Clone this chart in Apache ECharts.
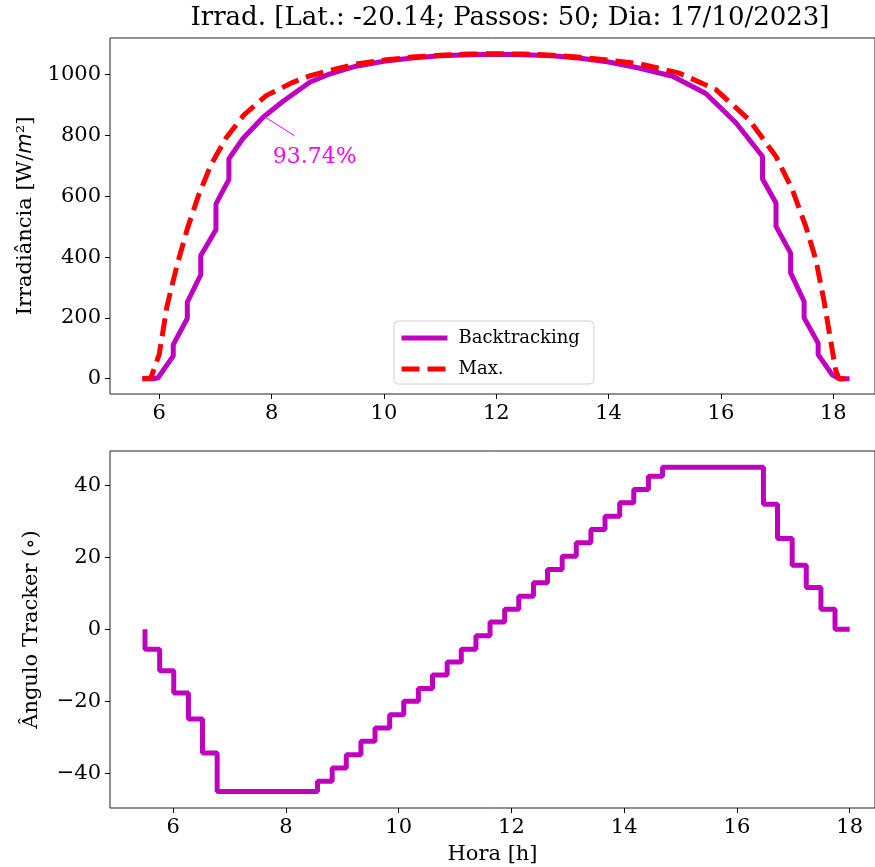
<!DOCTYPE html>
<html>
<head>
<meta charset="utf-8">
<script src="https://cdn.jsdelivr.net/npm/echarts@6/dist/echarts.min.js"></script>
<style>
  html, body { margin: 0; padding: 0; background: #fff; }
  #chart { width: 875px; height: 867px; }
</style>
</head>
<body>
<div id="chart"></div>
<script>
// top panel: irradiance (hours)
const hoursBack = [5.70, 5.90, 5.98, 6.25, 6.25, 6.50, 6.50, 6.74, 6.74, 7.01, 7.01, 7.24, 7.24, 7.49, 7.85, 8.20, 8.68,
  9.0, 9.5, 10.0, 10.5, 11.0, 11.5, 12.0, 12.5, 13.0, 13.5, 14.0, 14.54, 15.14, 15.73, 16.27,
  16.74, 16.74, 16.98, 16.98, 17.24, 17.24, 17.48, 17.48, 17.73, 17.73, 17.98, 18.10, 18.29];
const irrBacktracking = [0, 0, 3, 75, 112, 198, 252, 342, 405, 490, 575, 655, 723, 790, 860, 912, 975,
  1000, 1028, 1044, 1055, 1062, 1066, 1067, 1066, 1062, 1054, 1042, 1022, 995, 938, 841,
  731, 657, 578, 501, 413, 348, 254, 200, 117, 79, 13, 0, 0];

const hoursMax = [5.70, 5.85, 6.00, 6.14, 6.32, 6.50, 6.70, 6.92, 7.19, 7.51, 7.91, 8.38, 8.68,
  9.0, 9.5, 10.0, 10.5, 11.0, 11.5, 12.0, 12.5, 13.0, 13.5, 14.0, 14.55, 15.26, 15.91, 16.50,
  16.98, 17.27, 17.51, 17.69, 17.83, 17.95, 18.04, 18.10, 18.29];
const irrMax = [0, 2, 80, 240, 375, 493, 603, 703, 792, 868, 932, 975, 996,
  1012, 1035, 1048, 1058, 1064, 1068, 1069, 1068, 1064, 1057, 1048, 1036, 1005, 951, 852,
  731, 622, 501, 391, 260, 128, 30, 0, 0];

// bottom panel: tracker angle, 50 steps
const hoursStep = [5.50, 5.76, 6.01, 6.27, 6.52, 6.78, 7.03, 7.29, 7.54, 7.80, 8.05, 8.31, 8.56, 8.82,
  9.07, 9.33, 9.58, 9.84, 10.09, 10.35, 10.60, 10.86, 11.11, 11.37, 11.62, 11.88, 12.13, 12.39,
  12.64, 12.90, 13.15, 13.41, 13.66, 13.92, 14.17, 14.43, 14.68, 14.94, 15.19, 15.45, 15.70,
  15.96, 16.21, 16.47, 16.72, 16.98, 17.23, 17.49, 17.74, 18.00];
const trackerAngle = [0, -5.5, -11.5, -17.7, -24.9, -34.3, -45, -45, -45, -45, -45, -45, -45, -42.2,
  -38.5, -34.8, -31.1, -27.4, -23.7, -20.0, -16.4, -12.7, -9.1, -5.5, -1.8, 2.0, 5.6, 9.2,
  12.9, 16.6, 20.3, 24.0, 27.7, 31.4, 35.1, 38.8, 42.5, 45, 45, 45, 45,
  45, 45, 45, 34.7, 25.2, 17.8, 11.6, 5.6, 0];

const xTicks = [6, 8, 10, 12, 14, 16, 18];
const irrTicks = [0, 200, 400, 600, 800, 1000];
const angleTicks = [-40, -20, 0, 20, 40];

const titleText = 'Irrad. [Lat.: -20.14; Passos: 50; Dia: 17/10/2023]';
const annotText = '93.74%';

const FONT = 'DejaVu Serif';
const PURPLE = '#bf00bf';
const RED = '#ff0000';

const zip = (xs, ys) => xs.map((x, i) => [x, ys[i]]);
const fmt = (v) => String(v).replace('-', '\u2212');

const chart = echarts.init(document.getElementById('chart'), null, { renderer: 'canvas' });

const axisLabel = (vals) => ({
  customValues: vals, formatter: fmt, color: '#000', fontFamily: FONT, fontSize: 21, margin: 9
});
const axisTick = (vals) => ({
  customValues: vals, length: 5, lineStyle: { color: '#000', width: 1 }
});
const noLine = { show: false, onZero: false };

const option = {
  animation: false,
  backgroundColor: '#fff',
  graphic: [{
    type: 'text', x: 510, y: 18,
    style: { text: titleText, fill: '#000', font: '26px "DejaVu Serif"', textAlign: 'center', textVerticalAlign: 'middle' }
  }],
  legend: {
    data: ['Backtracking', 'Max.'],
    orient: 'vertical',
    left: 394, top: 321,
    padding: [8, 14, 6, 5],
    itemWidth: 46, itemHeight: 12, itemGap: 13,
    lineStyle: { width: 5 },
    itemStyle: { opacity: 0, color: 'rgba(0,0,0,0)', borderWidth: 0 },
    textStyle: { fontFamily: FONT, fontSize: 18, color: '#000', padding: [0, 0, 0, 6] },
    borderColor: '#d0d0d0', borderWidth: 1, borderRadius: 4,
    backgroundColor: 'rgba(255,255,255,0.8)'
  },
  grid: [
    { left: 110, top: 38, width: 766, height: 356, show: true, borderColor: '#222', borderWidth: 1 },
    { left: 110, top: 451, width: 766, height: 357, show: true, borderColor: '#222', borderWidth: 1 }
  ],
  xAxis: [
    { type: 'value', gridIndex: 0, min: 5.124, max: 18.742, axisLine: noLine,
      axisLabel: axisLabel(xTicks), axisTick: axisTick(xTicks), splitLine: { show: false } },
    { type: 'value', gridIndex: 1, min: 4.879, max: 18.449, axisLine: noLine,
      axisLabel: axisLabel(xTicks), axisTick: axisTick(xTicks), splitLine: { show: false },
      name: 'Hora [h]', nameLocation: 'middle', nameGap: 36,
      nameTextStyle: { fontFamily: FONT, fontSize: 21, color: '#000' } }
  ],
  yAxis: [
    { type: 'value', gridIndex: 0, min: -50.3, max: 1120.7, axisLine: noLine,
      axisLabel: axisLabel(irrTicks), axisTick: axisTick(irrTicks), splitLine: { show: false },
      name: 'Irradiância [W/{i|m}²]', nameLocation: 'middle', nameGap: 74,
      nameTextStyle: { fontFamily: FONT, fontSize: 21, color: '#000',
        rich: { i: { fontFamily: 'DejaVu Sans', fontStyle: 'italic', fontSize: 21, color: '#000' } } } },
    { type: 'value', gridIndex: 1, min: -49.6, max: 49.5, axisLine: noLine,
      axisLabel: axisLabel(angleTicks), axisTick: axisTick(angleTicks), splitLine: { show: false },
      name: 'Ângulo Tracker (∘)', nameLocation: 'middle', nameGap: 68,
      nameTextStyle: { fontFamily: FONT, fontSize: 21, color: '#000' } }
  ],
  series: [
    {
      name: 'Backtracking', type: 'line', xAxisIndex: 0, yAxisIndex: 0,
      data: zip(hoursBack, irrBacktracking), showSymbol: false, symbol: 'none',
      color: PURPLE, lineStyle: { color: PURPLE, width: 5 },
      markLine: {
        silent: true, symbol: ['none', 'none'], animation: false,
        lineStyle: { color: '#ff00ff', width: 1, type: 'solid' },
        label: { show: false },
        data: [[{ coord: [7.88, 861] }, { coord: [8.41, 799] }]]
      },
      markPoint: {
        silent: true, symbol: 'circle', symbolSize: 0,
        label: { show: true, position: 'inside', formatter: annotText, color: '#ff00ff', fontFamily: FONT, fontSize: 22 },
        data: [{ coord: [8.77, 727] }]
      }
    },
    {
      name: 'Max.', type: 'line', xAxisIndex: 0, yAxisIndex: 0,
      data: zip(hoursMax, irrMax), showSymbol: false, symbol: 'none',
      color: RED, lineStyle: { color: RED, width: 5, type: [18, 8] }
    },
    {
      name: 'Angulo', type: 'line', xAxisIndex: 1, yAxisIndex: 1, step: 'start',
      data: zip(hoursStep, trackerAngle), showSymbol: false, symbol: 'none',
      color: PURPLE, lineStyle: { color: PURPLE, width: 5 }
    }
  ]
};

chart.setOption(option);
window.addEventListener('resize', chart.resize);
</script>
</body>
</html>
